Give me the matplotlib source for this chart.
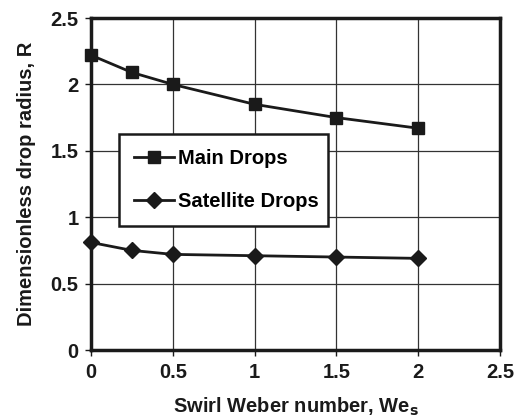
import matplotlib
matplotlib.use("Agg")
import matplotlib.pyplot as plt

plt.rcParams['font.family'] = ['Liberation Sans', 'DejaVu Sans']
plt.rcParams['font.weight'] = 'bold'
plt.rcParams['axes.labelweight'] = 'bold'

we_s = [0, 0.25, 0.5, 1, 1.5, 2]
main_drops = [2.22, 2.09, 2.00, 1.85, 1.75, 1.67]
satellite_drops = [0.81, 0.75, 0.72, 0.71, 0.70, 0.69]

fig = plt.figure(figsize=(5.3, 4.18), dpi=100)
ax = fig.add_axes([91/530, 68/418, 409/530, 332/418])

ax.plot(we_s, main_drops, color='#1a1a1a', lw=2, marker='s', ms=8,
        label='Main Drops', zorder=3, clip_on=False)
ax.plot(we_s, satellite_drops, color='#1a1a1a', lw=2, marker='D', ms=8,
        label='Satellite Drops', zorder=3, clip_on=False)

ax.set_xlim(0, 2.5)
ax.set_ylim(0, 2.5)
ax.set_xticks([0, 0.5, 1, 1.5, 2, 2.5])
ax.set_xticklabels(['0', '0.5', '1', '1.5', '2', '2.5'])
ax.set_yticks([0, 0.5, 1, 1.5, 2, 2.5])
ax.set_yticklabels(['0', '0.5', '1', '1.5', '2', '2.5'])
ax.grid(True, color='#333333', lw=0.9)
ax.set_axisbelow(True)
for s in ax.spines.values():
    s.set_linewidth(2.5)
    s.set_color('#1a1a1a')
ax.tick_params(labelsize=14.5, width=1, length=4, direction='out', pad=5, colors='#1a1a1a')

ax.set_xlabel('Swirl Weber number, We$_\\mathbf{s}$', fontsize=14.5, labelpad=10, color='#1a1a1a')
ax.set_ylabel('Dimensionless drop radius, R', fontsize=14.5, labelpad=10, color='#1a1a1a')

leg = ax.legend(loc='lower left', bbox_to_anchor=(0.068, 0.373, 0.511, 0.271), mode='expand',
                fontsize=14.5, frameon=True, fancybox=False, borderpad=0.75,
                labelspacing=1.2, handlelength=2.0, handletextpad=0.2, edgecolor='#1a1a1a',
                framealpha=1, borderaxespad=0)
leg.get_frame().set_linewidth(1.8)

fig.savefig('out.png', dpi=100)
